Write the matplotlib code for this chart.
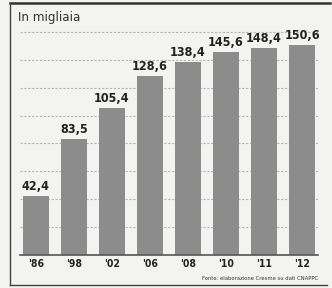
import numpy as np
import matplotlib
matplotlib.use("Agg")
from matplotlib import pyplot as plt
from matplotlib.lines import Line2D
from matplotlib import font_manager

names = sorted(set((f.name, f.stretch, f.weight) for f in font_manager.fontManager.ttflist))
print([n for n in names if 'Narrow' in n[0] or 'ondensed' in str(n[1]) or 'Condensed' in n[0]])

plt.rcParams['font.family'] = ['DejaVu Sans']
plt.rcParams['font.stretch'] = 'condensed'

# data (thousands)
anni = ["'86", "'98", "'02", "'06", "'08", "'10", "'11", "'12"]
valori = [42.4, 83.5, 105.4, 128.6, 138.4, 145.6, 148.4, 150.6]
etichette = ["42,4", "83,5", "105,4", "128,6", "138,4", "145,6", "148,4", "150,6"]
griglia = [20, 40, 60, 80, 100, 120, 140, 160]

W, H = 332, 288
fig = plt.figure(figsize=(W/100, H/100), dpi=100)
fig.patch.set_facecolor('#f3f3f1')

ax = fig.add_axes([20/W, 1-255/H, 298/W, 230/H])
ax.set_facecolor('#f3f3f1')
x = np.arange(len(anni))
ax.bar(x, valori, width=0.68, color='#8c8c8c', zorder=2)
for g in griglia:
    ax.axhline(g, color='#b4b4b4', lw=0.8, ls=(0, (2, 1.5)), zorder=1)
for xi, v, t in zip(x, valori, etichette):
    ax.text(xi, v + 2, t, ha='center', va='bottom', fontsize=9,
            fontweight='bold', color='#222222')
ax.set_xlim(-0.42, 7.42)
ax.set_ylim(0, 165)
ax.set_yticks([])
ax.set_xticks(x)
ax.set_xticklabels(anni, fontsize=7.5, fontweight='bold', color='#222222')
ax.tick_params(axis='x', length=0, pad=3)
for s in ['top', 'right', 'left']:
    ax.spines[s].set_visible(False)
ax.spines['bottom'].set_color('#555555')
ax.spines['bottom'].set_linewidth(1.2)

# frame
fig.add_artist(Line2D([10/W, 330/W], [1-3/H, 1-3/H], color='#333333', lw=1.8))
fig.add_artist(Line2D([10/W, 10/W], [1-3/H, 1-285/H], color='#444444', lw=1.0))
fig.add_artist(Line2D([10/W, 327/W], [1-285/H, 1-285/H], color='#444444', lw=1.0))

fig.text(18/W, 1-18/H, "In migliaia", fontsize=9.5, color='#333333',
         ha='left', va='center')
fig.text(318/W, 1-279/H, "Fonte: elaborazione Cresme su dati CNAPPC",
         fontsize=4.2, color='#333333', ha='right', va='center')

fig.savefig('out.png', dpi=100, facecolor=fig.get_facecolor())
